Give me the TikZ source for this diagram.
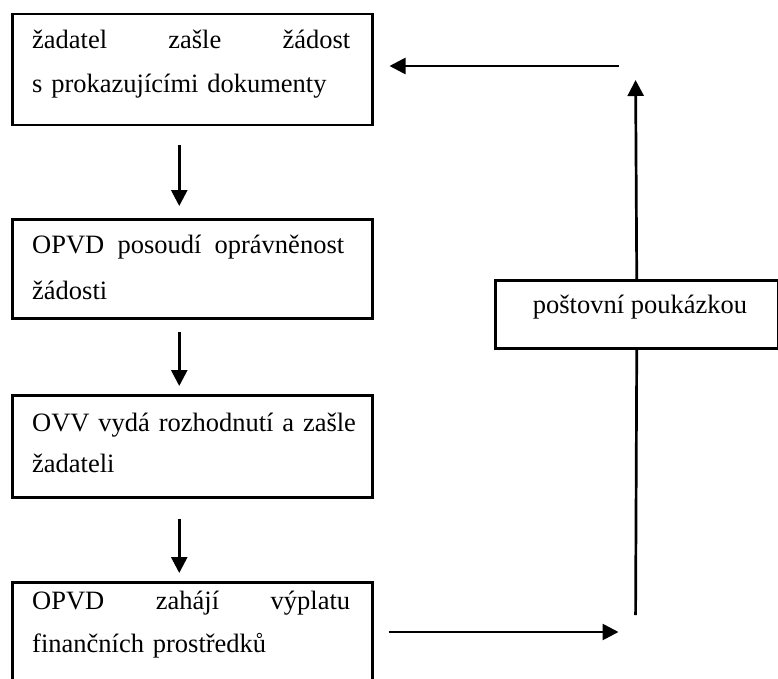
\documentclass[tikz,border=0pt]{standalone}
\usepackage{fontspec}
\setmainfont{Liberation Serif}
\usetikzlibrary{arrows.meta,calc}
\begin{document}
\begin{tikzpicture}[x=1pt,y=-1pt,
  box/.style={draw, line width=2.5pt, inner sep=0pt, minimum width=360pt, anchor=north west},
  txt/.style={inner sep=0pt, anchor=north west, text width=340pt, align=left},
  arr/.style={line width=2.7pt, -{Triangle[width=16pt,length=16pt]}},
  ln/.style={line width=2.7pt}]
\useasboundingbox (0,0) rectangle (778,679);
\clip (0,0) rectangle (778,679);
% boxes
\node[box, minimum height=111pt] (b1) at (11,13) {};
\node[box, minimum height=99pt] (b2) at (11,218) {};
\node[box, minimum height=102pt] (b3) at (11,394) {};
\node[box, minimum height=130pt] (b4) at (11,581) {};
\node[box, minimum width=283pt, minimum height=68pt] (p) at (494,279) {};
% texts
\node[txt, font=\fontsize{26.5}{44}\selectfont] (t1) at (32,28)
  {\rule{0pt}{20pt}\hbox to 318pt{žadatel\hfill zašle\hfill žádost}\\s prokazujícími dokumenty};
\node[txt, font=\fontsize{26.5}{46}\selectfont] (t2) at (32,233)
  {\rule{0pt}{20pt}\hbox to 312pt{OPVD\hfill posoudí\hfill oprávněnost}\\žádosti};
\node[txt, font=\fontsize{26.5}{41}\selectfont] (t3) at (32,411)
  {\rule{0pt}{20pt}OVV vydá rozhodnutí a zašle\\žadateli};
\node[txt, font=\fontsize{26.5}{43}\selectfont] (t4) at (32,589)
  {\rule{0pt}{20pt}\hbox to 318pt{OPVD\hfill zahájí\hfill výplatu}\\finančních prostředků};
\node[inner sep=0pt, anchor=base, font=\fontsize{26.5}{32}\selectfont] (pt) at (640,313) {poštovní poukázkou};
% down arrows
\draw[arr, shorten <=19pt, shorten >=12pt] ($(b1.south)+(-13,0)$) -- ($(b2.north)+(-13,0)$);
\draw[arr, shorten <=12pt, shorten >=8pt] ($(b2.south)+(-13,0)$) -- ($(b3.north)+(-13,0)$);
\draw[arr, shorten <=20pt, shorten >=8pt] ($(b3.south)+(-13,0)$) -- ($(b4.north)+(-13,0)$);
% right loop
\coordinate (c1) at (635.5,632);
\coordinate (c2) at (635.5,66);
\draw[arr, shorten <=15pt, shorten >=17pt] (c1 -| b4.east) -- (c1);
\draw[ln, shorten <=17pt] (c1) -- (p.south);
\draw[arr, shorten >=14pt] (p.north) -- (c2);
\draw[arr, shorten <=17pt, shorten >=16pt] (c2) -- (c2 -| b1.east);
\end{tikzpicture}
\end{document}
